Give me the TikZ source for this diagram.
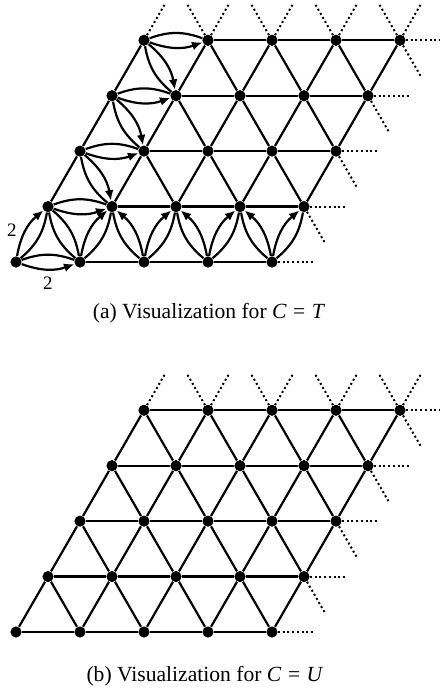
\documentclass[tikz,border=0pt]{standalone}
\usepackage{fontspec}
\setmainfont{Liberation Serif}
\usetikzlibrary{arrows.meta, positioning, calc}

\begin{document}
\begin{tikzpicture}[
    x=0.5pt, y=0.5pt,
    % Node styles
    vertex/.style={
        circle, fill=black, inner sep=0pt, minimum size=5.6pt,
    },
    weight/.style={
        font=\fontsize{9.5}{11}\selectfont, inner sep=2pt,
    },
    subcap/.style={
        font=\fontsize{10.8}{13}\selectfont, inner sep=1pt,
    },
    % Line styles
    link/.style={
        draw=black, line width=1.1pt,
    },
    flow/.style={
        link, -{Latex[length=5.2pt, width=4.4pt]},
    },
    stub/.style={
        draw=black, line width=1pt, dash pattern=on 1pt off 1.35pt,
    },
]
\useasboundingbox (0,0) rectangle (440,-698);

% === Lattice vertices (t: C=T, u: C=U) ===
\foreach \g/\yy in {t/-262, u/-632} {
    \foreach \i in {0,...,4} {
        \foreach \j in {0,...,4} {
            \node[vertex] (\g-\i-\j) at ({16+64*\i+32*\j}, {\yy+55.43*\j}) {};
        }
    }
}

% === (a): plain edges ===
\foreach \i [count=\ii from 2] in {1,...,3} {
    \foreach \j in {0,...,4} { \draw[link] (t-\i-\j) -- (t-\ii-\j); }
}
\foreach \i in {0,...,4} {
    \foreach \j [count=\jj from 2] in {1,...,3} { \draw[link] (t-\i-\j) -- (t-\i-\jj); }
}
\foreach \i [count=\ii from 2] in {1,...,3} {
    \foreach \j [count=\jj from 2] in {1,...,3} { \draw[link] (t-\ii-\j) -- (t-\i-\jj); }
}

% === (a): double edges into row 1 ===
\draw[link] (t-0-0) to[bend right=20] (t-0-1);
\draw[flow] (t-0-0) to[bend left=20] node[weight, pos=0.5, left=2pt] {2} (t-0-1);
\foreach \i in {1,...,4} {
    \draw[link] (t-\i-0) to[bend right=20] (t-\i-1);
    \draw[flow] (t-\i-0) to[bend left=20] (t-\i-1);
}
\draw[link] (t-1-0) to[bend left=20] (t-0-1);
\draw[link] (t-1-0) to[bend right=20] (t-0-1);
\foreach \i [count=\ii from 2] in {1,...,3} {
    \draw[link] (t-\ii-0) to[bend left=20] (t-\i-1);
    \draw[flow] (t-\ii-0) to[bend right=20] (t-\i-1);
}

% === (a): double edges into column 1 ===
\draw[link] (t-0-0) to[bend left=20] (t-1-0);
\draw[flow] (t-0-0) to[bend right=20] node[weight, pos=0.5, below=1pt] {2} (t-1-0);
\foreach \j in {1,...,4} {
    \draw[link] (t-0-\j) to[bend left=20] (t-1-\j);
    \draw[flow] (t-0-\j) to[bend right=20] (t-1-\j);
}
\foreach \j [count=\k] in {2,...,4} {
    \draw[link] (t-0-\j) to[bend right=20] (t-1-\k);
    \draw[flow] (t-0-\j) to[bend left=20] (t-1-\k);
}

% === (b): plain lattice ===
\foreach \i [count=\ii] in {0,...,3} {
    \foreach \j in {0,...,4} { \draw[link] (u-\i-\j) -- (u-\ii-\j); }
}
\foreach \i in {0,...,4} {
    \foreach \j [count=\jj] in {0,...,3} { \draw[link] (u-\i-\j) -- (u-\i-\jj); }
}
\foreach \i [count=\ii] in {0,...,3} {
    \foreach \j [count=\jj] in {0,...,3} { \draw[link] (u-\ii-\j) -- (u-\i-\jj); }
}

% === Dotted continuations ===
\foreach \g in {t,u} {
    \foreach \i in {0,...,4} \draw[stub] (\g-\i-4) -- ++(60:42.7);
    \foreach \i in {1,...,4} \draw[stub] (\g-\i-4) -- ++(120:42.7);
    \foreach \j in {0,...,4} \draw[stub] (\g-4-\j) -- ++(0:42.7);
    \foreach \j in {1,...,4} \draw[stub] (\g-4-\j) -- ++(-60:42.7);
}

% === Captions ===
\node[subcap] (cap-t) at (209,-313) {(a) Visualization for \textit{C}\hspace{0.3em}=\hspace{0.3em}\textit{T}};
\node[subcap] (cap-u) at (205,-676) {(b) Visualization for \textit{C}\hspace{0.3em}=\hspace{0.3em}\textit{U}};

\end{tikzpicture}
\end{document}
